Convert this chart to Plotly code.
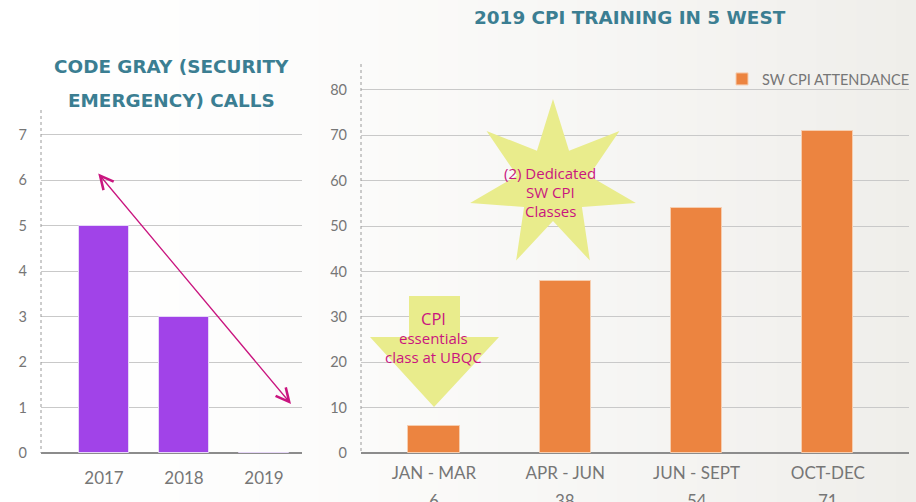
import math
import plotly.graph_objects as go

W, H = 916, 502

# data
years = ["2017", "2018", "2019"]
code_gray_calls = [5, 3, 0]

quarters = ["JAN - MAR", "APR - JUN", "JUN - SEPT", "OCT-DEC"]
cpi_attendance = [6, 38, 54, 71]

TEAL = "#3B7E92"
GRAY = "#767676"
MAGENTA = "#C9157F"
YELLOW = "#E9EC8C"


def px(x):
    return x / W


def py(y):
    return 1 - y / H


fig = go.Figure()

fig.add_trace(go.Bar(
    x=years, y=code_gray_calls, xaxis="x", yaxis="y",
    marker=dict(color="#A143E8", line=dict(color="#E6D6F8", width=1)),
    width=0.63, showlegend=False,
))
fig.add_trace(go.Bar(
    x=quarters, y=cpi_attendance, xaxis="x2", yaxis="y2",
    marker=dict(color="#EC8440", line=dict(color="#F6CDAF", width=1)),
    width=0.39, name="SW CPI ATTENDANCE",
))

tickfont = dict(family="Lato", size=14.5, color=GRAY)
xtickfont = dict(family="Lato", size=17, color=GRAY)
common_y = dict(
    showgrid=True, gridcolor="#C9C9C9", gridwidth=1,
    zeroline=True, zerolinecolor="#8C8C8C", zerolinewidth=2,
    showline=False, ticks="", tickfont=tickfont, ticklabelstandoff=13,
    automargin=False,
)

fig.update_layout(
    width=W, height=H,
    margin=dict(l=0, r=0, t=0, b=0, autoexpand=False),
    paper_bgcolor="#F8F7F5",
    plot_bgcolor="rgba(0,0,0,0)",
    bargap=0,
    xaxis=dict(domain=[px(41), px(302)], range=[-0.7875, 2.475], anchor="y",
               showgrid=False, ticks="", tickfont=xtickfont, ticklabelstandoff=13,
               automargin=False),
    yaxis=dict(domain=[py(453), py(110)], range=[0, 7.55], anchor="x",
               dtick=1, **common_y),
    xaxis2=dict(domain=[px(361), px(909)], range=[-0.556, 3.618], anchor="y2",
                showgrid=False, ticks="", tickfont=xtickfont, ticklabelstandoff=8,
                automargin=False),
    yaxis2=dict(domain=[py(453), py(64)], range=[0, 85.7], anchor="x2",
                dtick=10, **common_y),
    legend=dict(x=px(722), y=py(63), xanchor="left", yanchor="top",
                font=dict(family="Lato", size=14.5, color=GRAY),
                bgcolor="rgba(0,0,0,0)", itemwidth=30),
)

shapes = []
# soft horizontal background gradient (white on the left, warm grey on the right)
n = 46
for i in range(n):
    t = (i + 0.5) / n
    k = t ** 1.5
    col = f"rgb({round(255 - 16 * k)},{round(255 - 17 * k)},{round(255 - 21 * k)})"
    shapes.append(dict(type="rect", xref="paper", yref="paper", layer="below",
                       x0=i / n, x1=(i + 1) / n + 0.002, y0=0, y1=1,
                       fillcolor=col, line=dict(width=0)))

# dotted axis lines
shapes.append(dict(type="line", xref="paper", yref="paper",
                   x0=px(41), x1=px(41), y0=py(110), y1=py(453),
                   line=dict(color="#9A9A9A", width=1, dash="dot")))
shapes.append(dict(type="line", xref="paper", yref="paper",
                   x0=px(361), x1=px(361), y0=py(64), y1=py(453),
                   line=dict(color="#9A9A9A", width=1, dash="dot")))

# yellow block arrow
arrow_pts = [(409, 296), (460, 296), (460, 337), (499, 337), (434, 407),
             (370, 337), (409, 337)]
path = "M " + " L ".join(f"{px(x):.5f},{py(y):.5f}" for x, y in arrow_pts) + " Z"
shapes.append(dict(type="path", xref="paper", yref="paper", path=path,
                   fillcolor=YELLOW, line=dict(width=0), layer="above"))

# 7-point star
cx, cy, R, r = 553, 184, 85, 37
star = []
for i in range(14):
    ang = math.pi / 2 - i * math.pi / 7
    rad = R if i % 2 == 0 else r
    star.append((cx + rad * math.cos(ang), cy - rad * math.sin(ang)))
path = "M " + " L ".join(f"{px(x):.5f},{py(y):.5f}" for x, y in star) + " Z"
shapes.append(dict(type="path", xref="paper", yref="paper", path=path,
                   fillcolor=YELLOW, line=dict(width=0), layer="above"))

fig.update_layout(shapes=shapes)

annotations = [
    dict(text="CODE GRAY (SECURITY", x=px(171), y=py(66)),
    dict(text="EMERGENCY) CALLS", x=px(171), y=py(100)),
    dict(text="2019 CPI TRAINING IN 5 WEST", x=px(630), y=py(18)),
]
for a in annotations:
    a.update(xref="paper", yref="paper", showarrow=False, xanchor="center", yanchor="middle",
             font=dict(family="DejaVu Sans", size=18.4, color=TEAL, weight="bold"))

note_font = dict(family="Open Sans", size=15, color=MAGENTA)
notes = [
    dict(text="CPI", x=px(433), y=py(318), font=dict(family="Open Sans", size=16.5, color=MAGENTA)),
    dict(text="essentials", x=px(433), y=py(338), font=note_font),
    dict(text="class at UBQC", x=px(433), y=py(357), font=note_font),
    dict(text="(2) Dedicated", x=px(550), y=py(173), font=note_font),
    dict(text="SW CPI", x=px(550), y=py(192), font=note_font),
    dict(text="Classes", x=px(550), y=py(211), font=note_font),
]
for a in notes:
    a.update(xref="paper", yref="paper", showarrow=False, xanchor="center", yanchor="middle")
annotations += notes

# values under the quarter labels
for q, v in zip(quarters, cpi_attendance):
    annotations.append(dict(text=str(v), x=q, xref="x2", y=py(500), yref="paper",
                            showarrow=False, yanchor="middle", font=xtickfont))

# downward trend arrow on the left chart
annotations.append(dict(
    x=2.3375, y=1.079, ax=-0.0875, ay=6.185, xref="x", yref="y", axref="x", ayref="y",
    text="", showarrow=True, arrowhead=5, startarrowhead=5, arrowside="end+start",
    arrowwidth=1.3, arrowsize=2, startarrowsize=2, arrowcolor=MAGENTA,
))

fig.update_layout(annotations=annotations)

fig.write_html("out.html", config={"displayModeBar": False},
               post_script="document.body.style.margin='0';")
